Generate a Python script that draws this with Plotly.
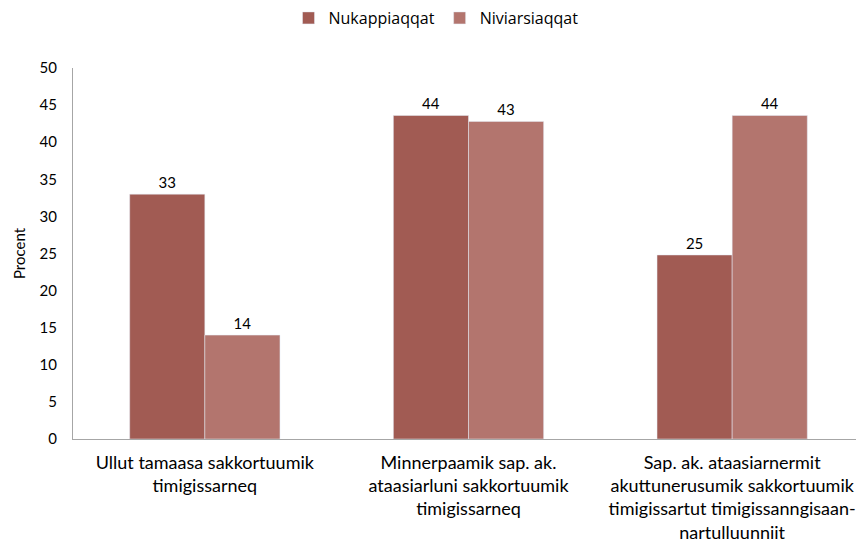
import plotly.graph_objects as go

categories = [
    "Ullut tamaasa sakkortuumik<br>timigissarneq",
    "Minnerpaamik sap. ak.<br>ataasiarluni sakkortuumik<br>timigissarneq",
    "Sap. ak. ataasiarnermit<br>akuttunerusumik sakkortuumik<br>timigissartut timigissanngisaan-<br>nartulluunniit",
]
nukappiaqqat = [33, 43.6, 24.8]
niviarsiaqqat = [14, 42.8, 43.6]
y_ticks = [0, 5, 10, 15, 20, 25, 30, 35, 40, 45, 50]

font = "Lato, Open Sans, sans-serif"

fig = go.Figure()
fig.add_trace(go.Bar(name="Nukappiaqqat", x=categories, y=nukappiaqqat,
                     marker_color="#A15B53", texttemplate="%{y:.0f}",
                     textposition="outside", cliponaxis=False,
                     textfont=dict(size=15, color="#000")))
fig.add_trace(go.Bar(name="Niviarsiaqqat", x=categories, y=niviarsiaqqat,
                     marker_color="#B3756E", texttemplate="%{y:.0f}",
                     textposition="outside", cliponaxis=False,
                     textfont=dict(size=15, color="#000")))

fig.update_layout(
    width=856, height=535,
    barmode="group", bargap=0.43, bargroupgap=0,
    plot_bgcolor="white", paper_bgcolor="white",
    font=dict(family=font, size=15, color="#000"),
    margin=dict(l=65, r=0, t=60, b=104, autoexpand=False),
    legend=dict(orientation="h", x=0.5, xanchor="center", xref="container",
                y=1 - 10 / 535, yanchor="middle", yref="container",
                font=dict(size=16, family="Open Sans, sans-serif"), itemwidth=30,
                traceorder="normal"),
    xaxis=dict(showline=True, linecolor="#A6A6A6", linewidth=1, ticks="",
               tickfont=dict(size=18), automargin=False, ticklabelstandoff=7),
    yaxis=dict(range=[0, 50], tickvals=y_ticks, showgrid=False, showline=True,
               linecolor="#A6A6A6", linewidth=1, ticks="", zeroline=False,
               ticklabelstandoff=12, automargin=False,
               title=dict(text="Procent", font=dict(size=15), standoff=10),
               tickfont=dict(size=15)),
)
fig.write_html("out.html")
